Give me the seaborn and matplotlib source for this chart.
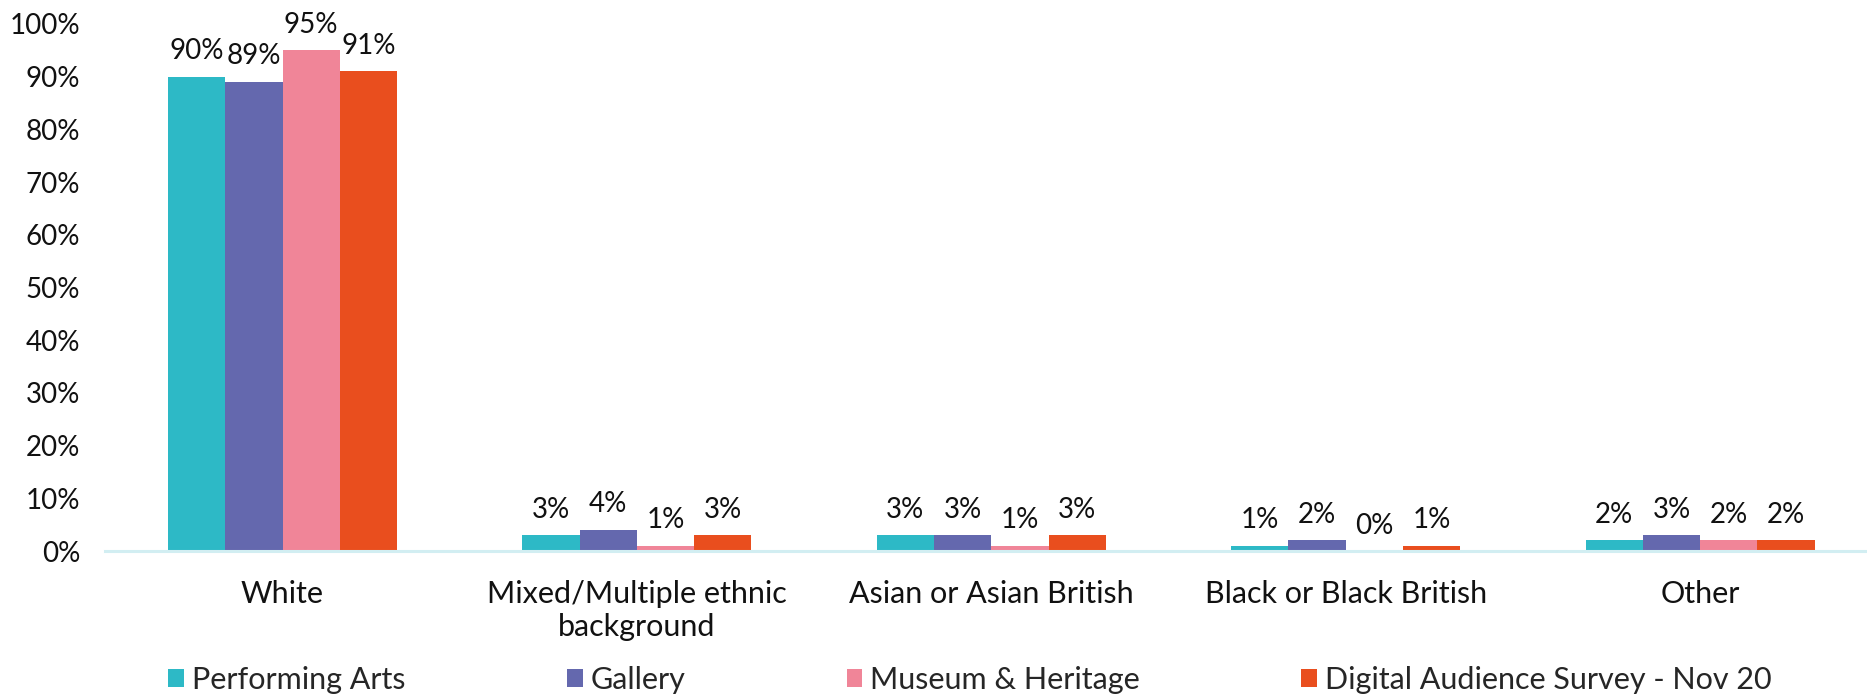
import matplotlib
matplotlib.use("Agg")
import matplotlib.pyplot as plt
import seaborn as sns
import pandas as pd
from matplotlib.ticker import PercentFormatter

categories = ["White", "Mixed/Multiple ethnic\nbackground", "Asian or Asian British",
              "Black or Black British", "Other"]
series = ["Performing Arts", "Gallery", "Museum & Heritage", "Digital Audience Survey - Nov 20"]
performing_arts = [0.90, 0.03, 0.03, 0.01, 0.02]
gallery = [0.89, 0.04, 0.03, 0.02, 0.03]
museum_heritage = [0.95, 0.01, 0.01, 0.00, 0.02]
digital_survey = [0.91, 0.03, 0.03, 0.01, 0.02]
colors = ["#2DB9C6", "#6468AE", "#F08598", "#E94E1E"]
yticks = [i / 10 for i in range(11)]

rows = []
for s, vals in zip(series, [performing_arts, gallery, museum_heritage, digital_survey]):
    for c, v in zip(categories, vals):
        rows.append({"category": c, "series": s, "value": v})
df = pd.DataFrame(rows)

sns.set_theme(style="white")
plt.rcParams["font.family"] = ["Lato", "DejaVu Sans"]
FS = 22
NFS = 20

W, H = 1867, 695
fig = plt.figure(figsize=(W / 100, H / 100), dpi=100)
left = 105.3 / W
bottom = (H - 551) / H
top = (H - 24) / H
ax = fig.add_axes([left, bottom, 1772 / W, top - bottom])

sns.barplot(data=df, x="category", y="value", hue="series", order=categories,
            hue_order=series, palette=colors, width=0.646, gap=0, ax=ax,
            saturation=1, edgecolor="none", linewidth=0, legend=True)

for cont in ax.containers:
    ax.bar_label(cont, labels=[f"{v * 100:.0f}%" for v in cont.datavalues],
                 padding=9, fontsize=NFS, color="#111111")

ax.set_xlim(-0.5, 4.5)
ax.set_ylim(0, 1.0)
ax.set_yticks(yticks)
ax.yaxis.set_major_formatter(PercentFormatter(1.0, decimals=0))
ax.tick_params(axis="y", length=0, pad=18, labelsize=NFS, labelcolor="#111111")
ax.tick_params(axis="x", length=0, pad=21, labelsize=FS, labelcolor="#111111")
ax.set_xlabel("")
ax.set_ylabel("")
for sp in ["top", "right", "left"]:
    ax.spines[sp].set_visible(False)
ax.spines["bottom"].set_color("#D2EEF2")
ax.spines["bottom"].set_linewidth(2.2)
ax.grid(False)

handles, labels = ax.get_legend_handles_labels()
ax.get_legend().remove()
fig.legend(handles, labels, loc="center", bbox_to_anchor=(970 / W, (H - 680) / H),
           ncol=4, frameon=False, fontsize=FS, handlelength=0.52, handleheight=0.52,
           handletextpad=0.26, columnspacing=5.27, borderaxespad=0, borderpad=0)

fig.savefig("out.png", dpi=100)
